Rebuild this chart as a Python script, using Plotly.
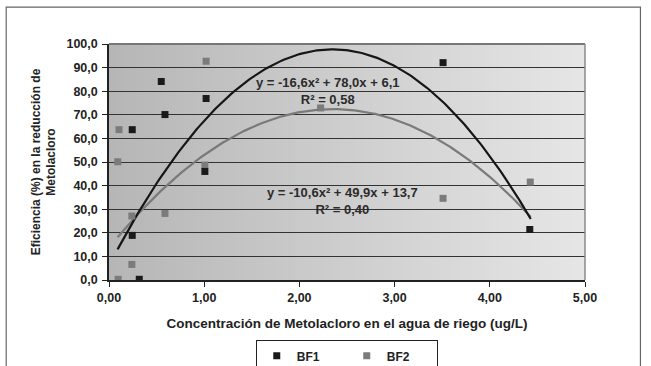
import base64, struct, zlib
import numpy as np
import plotly.graph_objects as go

# ---- data ----
bf1_x = [0.244, 0.244, 0.318, 0.549, 0.588, 1.007, 1.020, 3.509, 4.420]
bf1_y = [63.7, 18.9, 0.3, 84.1, 70.1, 46.0, 76.9, 92.1, 21.4]
bf2_x = [0.105, 0.092, 0.096, 0.240, 0.240, 0.588, 1.020, 1.007, 2.223, 3.509, 4.425]
bf2_y = [63.7, 50.1, 0.3, 27.1, 6.6, 28.2, 92.7, 48.7, 72.9, 34.6, 41.5]
bf1_coef = [-16.6, 78.0, 6.1]   # y = a x^2 + b x + c (shown on chart)
bf2_coef = [-10.6, 49.9, 13.7]
trend_range = [0.09, 4.43]
x_ticks = [0, 1, 2, 3, 4, 5]
y_ticks = [0, 10, 20, 30, 40, 50, 60, 70, 80, 90, 100]

FONT = "Liberation Sans, Arial, sans-serif"

# gradient background image (horizontal grey gradient)
def gradient_png(c0, c1, w=256):
    row = bytes([int(round(c0 + (c1 - c0) * i / (w - 1))) for i in range(w)])
    raw = b"\x00" + row
    def chunk(t, d):
        c = struct.pack(">I", len(d)) + t + d
        return c + struct.pack(">I", zlib.crc32(t + d) & 0xffffffff)
    png = b"\x89PNG\r\n\x1a\n"
    png += chunk(b"IHDR", struct.pack(">IIBBBBB", w, 1, 8, 0, 0, 0, 0))
    png += chunk(b"IDAT", zlib.compress(raw))
    png += chunk(b"IEND", b"")
    return "data:image/png;base64," + base64.b64encode(png).decode()

tx = np.linspace(trend_range[0], trend_range[1], 200)

fig = go.Figure()
fig.add_trace(go.Scatter(x=tx, y=np.polyval(bf2_coef, tx), mode="lines",
                         line=dict(color="#7a7a7a", width=2.2), showlegend=False, hoverinfo="skip"))
fig.add_trace(go.Scatter(x=tx, y=np.polyval(bf1_coef, tx), mode="lines",
                         line=dict(color="#161616", width=2.2), showlegend=False, hoverinfo="skip"))
fig.add_trace(go.Scatter(x=bf2_x, y=bf2_y, mode="markers", name="BF2",
                         marker=dict(symbol="square", size=7, color="#7b7b7b")))
fig.add_trace(go.Scatter(x=bf1_x, y=bf1_y, mode="markers", name="BF1",
                         marker=dict(symbol="square", size=7, color="#1a1a1a")))

fig.add_layout_image(dict(source=gradient_png(0xb6, 0xe6), xref="x", yref="y",
                          x=0, y=100, sizex=5, sizey=100, sizing="stretch",
                          layer="below", opacity=1))

tick_font = dict(family=FONT, size=12.5, color="#222222", weight="bold")
fig.update_layout(
    width=651, height=366,
    margin=dict(l=109, r=66, t=44, b=86, autoexpand=False),
    paper_bgcolor="white", plot_bgcolor="white",
    separators=", ",
    font=dict(family=FONT, color="#222222"),
    xaxis=dict(range=[0, 5], tickvals=x_ticks, tickformat=".2f", showgrid=False,
               showline=True, linecolor="#222222", linewidth=1.5,
               ticks="outside", ticklen=5, tickcolor="#222222",
               tickfont=tick_font, zeroline=False,
               title=dict(text="Concentración de Metolacloro en el agua de riego (ug/L)",
                          font=dict(family=FONT, size=13.5, color="#222222", weight="bold"),
                          standoff=15)),
    yaxis=dict(range=[0, 100], tickvals=y_ticks, tickformat=".1f", showgrid=True,
               gridcolor="#333333", gridwidth=1,
               showline=True, linecolor="#222222", linewidth=1.5,
               ticks="outside", ticklen=5, tickcolor="#222222",
               tickfont=tick_font, zeroline=False, ticklabelstandoff=2,
               title=dict(text="Eficiencia (%) en la reducción de<br>Metolacloro",
                          font=dict(family=FONT, size=12, color="#222222", weight="bold"),
                          standoff=8)),
    legend=dict(orientation="h", x=0.4995, xanchor="center", y=-0.2558, yanchor="top",
                bordercolor="#222222", borderwidth=1, bgcolor="white",
                traceorder="reversed", entrywidth=45,
                font=dict(family=FONT, size=12, color="#222222", weight="bold")),
    showlegend=True,
)

ann_font = dict(family=FONT, size=13, color="#2b2b2b", weight="bold")
fig.add_annotation(x=2.30, y=80.1, xref="x", yref="y", showarrow=False, align="center",
                   text="y = -16,6x² + 78,0x + 6,1<br>R² = 0,58", font=ann_font)
fig.add_annotation(x=2.45, y=33.6, xref="x", yref="y", showarrow=False, align="center",
                   text="y = -10,6x² + 49,9x + 13,7<br>R² = 0,40", font=ann_font)

# plot-area top/right border and outer chart border
fig.add_shape(type="line", xref="paper", yref="paper", x0=0, x1=1, y0=1, y1=1,
              line=dict(color="#777777", width=2))
fig.add_shape(type="line", xref="paper", yref="paper", x0=1, x1=1, y0=0, y1=1,
              line=dict(color="#8a8a8a", width=1.5))
fig.add_shape(type="rect", xref="paper", yref="paper", x0=-0.216, x1=1.1165, y0=-0.6, y1=1.156,
              line=dict(color="#666666", width=1.2), fillcolor="rgba(0,0,0,0)", layer="below")

fig.write_html("out.html")
